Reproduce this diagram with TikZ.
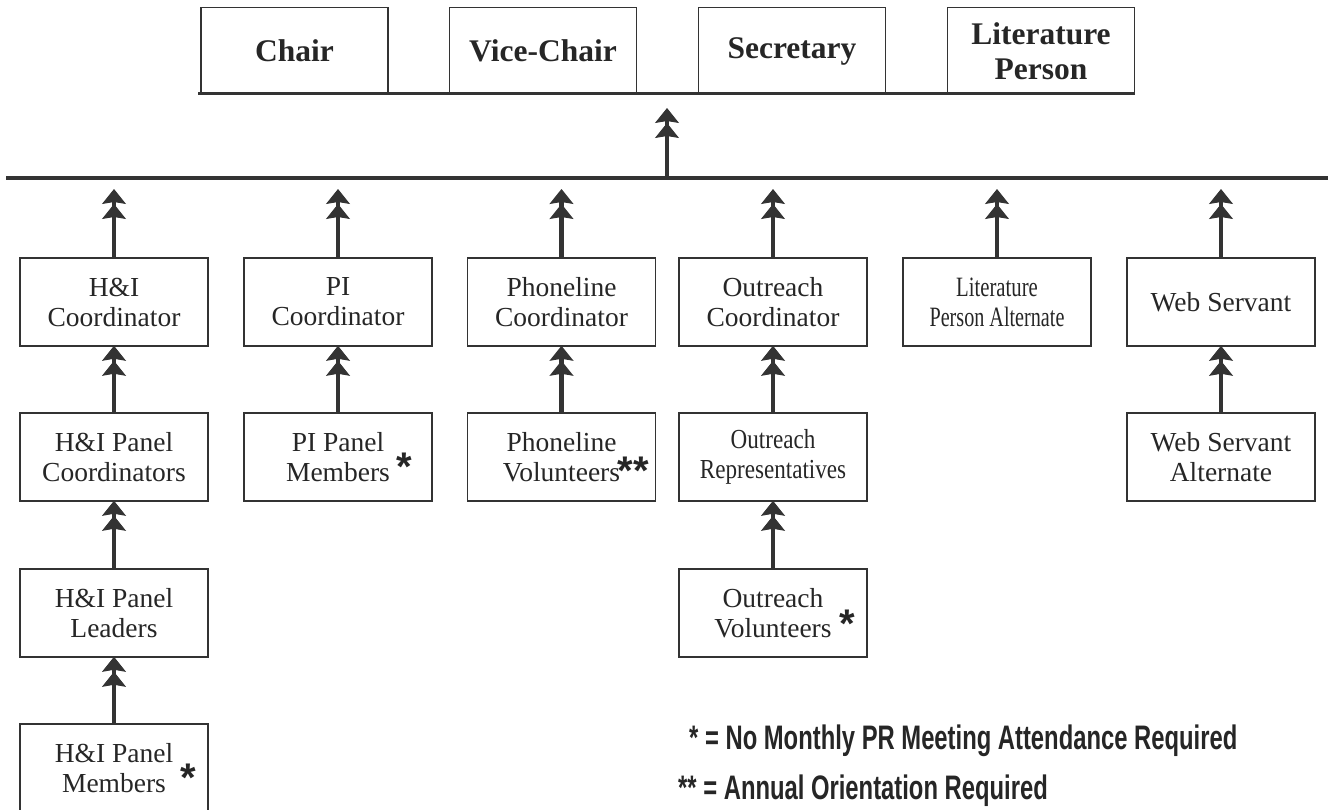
\documentclass[tikz,border=0pt]{standalone}
\usepackage{fontspec}
\setmainfont{Liberation Serif}
\newfontfamily\legendfont{Liberation Sans}
\usepackage{graphicx}
\usetikzlibrary{arrows.meta}
\definecolor{ink}{HTML}{333333}
\definecolor{txt}{HTML}{262626}
\begin{document}
\begin{tikzpicture}[x=1pt,y=-1pt,
  box/.style={draw=ink,line width=1.6pt,minimum width=188pt,minimum height=88pt,inner sep=0pt,align=center,text=txt,font=\fontsize{27.5}{30}\selectfont},
  topbox/.style={box,minimum width=187pt,minimum height=87pt,font=\bfseries\fontsize{31.5}{35}\selectfont},
  arr/.style={draw=ink,line width=4.5pt,-{Stealth[length=15pt,width=24pt,inset=2pt,fill=ink,line width=1pt]Stealth[length=15pt,width=24pt,inset=2pt,fill=ink,line width=1pt,sep=-4pt]}},
  star/.style={font=\legendfont\bfseries\fontsize{40}{40}\selectfont,text=txt,inner sep=0pt,anchor=base},
  legend/.style={font=\legendfont\bfseries\fontsize{34}{34}\selectfont,text=txt,inner sep=0pt,anchor=base west}]
\useasboundingbox (0,0) rectangle (1328,809);
\clip (0,0) rectangle (1328,809);

% top row
\node[topbox] (chair) at (294.5,51) {Chair};
\node[topbox] (vice)  at (543,51)   {Vice-Chair};
\node[topbox] (sec)   at (792,51)   {Secretary};
\node[topbox] (lit)   at (1041,51)  {Literature\\Person};

% bars
\coordinate (tbL) at (198,93);
\coordinate (tbR) at (1135,93);
\draw[ink,line width=3pt] (tbL) -- (tbR);
\coordinate (lbL) at (6,178);
\coordinate (lbR) at (1328,178);
\draw[ink,line width=4pt] (lbL) -- (lbR);

% central arrow
\coordinate (cb) at (667,178);
\coordinate (ct) at (667,112);
\draw[arr] (cb) -- (ct);

% row 1
\node[box] (hic) at (114,302)   {H\&I\\Coordinator};
\node[box] (pic) at (338,302)   {PI\\Coordinator};
\node[box] (phc) at (561.5,302) {Phoneline\\Coordinator};
\node[box] (orc) at (773,302)   {Outreach\\Coordinator};
\node[box,font=\fontsize{28}{30}\selectfont] (lpa) at (997,302) {\scalebox{0.74}[1]{Literature}\\\scalebox{0.72}[1]{Person Alternate}};
\node[box] (web) at (1221,302)  {Web Servant};

% row 2
\node[box] (hipc) at (114,457)   {H\&I Panel\\Coordinators};
\node[box] (pipm) at (338,457)   {PI Panel\\Members};
\node[box] (phv)  at (561.5,457) {Phoneline\\Volunteers};
\node[box] (orep) at (773,457)   {\scalebox{0.84}[1]{Outreach}\\\scalebox{0.84}[1]{Representatives}};
\node[box] (wsa)  at (1221,457)  {Web Servant\\Alternate};

% row 3
\node[box] (hipl) at (114,613) {H\&I Panel\\Leaders};
\node[box] (ovol) at (773,613) {Outreach\\Volunteers};

% row 4
\node[box] (hipm) at (114,768) {H\&I Panel\\Members};

% arrows to bus
\coordinate (bus) at (0,193);
\foreach \n in {hic,pic,phc,orc,lpa,web}{
  \draw[arr] (\n.north) -- (\n.north |- bus);
}
% box to box arrows
\draw[arr,shorten >=3pt] (hipc.north) -- (hic.south);
\draw[arr,shorten >=3pt] (hipl.north) -- (hipc.south);
\draw[arr,shorten >=3pt] (hipm.north) -- (hipl.south);
\draw[arr,shorten >=3pt] (pipm.north) -- (pic.south);
\draw[arr,shorten >=3pt] (phv.north) -- (phc.south);
\draw[arr,shorten >=3pt] (orep.north) -- (orc.south);
\draw[arr,shorten >=3pt] (ovol.north) -- (orep.south);
\draw[arr,shorten >=3pt] (wsa.north) -- (web.south);

% asterisks
\node[star] (s1) at (188,791) {*};
\node[star] (s2) at (404,480) {*};
\node[star] (s3) at (633,484) {**};
\node[star] (s4) at (847,637) {*};

% legend
\node[legend] (l1) at (689,749) {\scalebox{0.7}[1]{* = No Monthly PR Meeting Attendance Required}};
\node[legend] (l2) at (678,799) {\scalebox{0.7}[1]{** = Annual Orientation Required}};
\end{tikzpicture}
\end{document}
